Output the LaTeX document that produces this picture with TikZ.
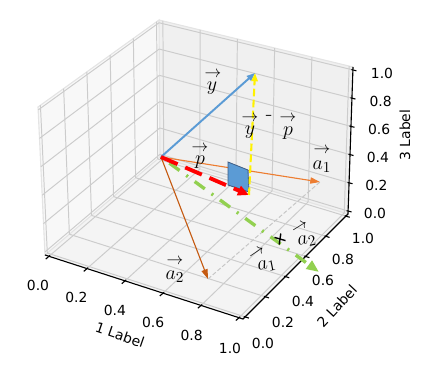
\documentclass[tikz,border=0pt]{standalone}
\usepackage{fontspec}
\newfontfamily\dv{DejaVu Sans}
\usetikzlibrary{calc,arrows.meta}
\definecolor{vblue}{HTML}{5B9BD5}
\definecolor{vorange}{HTML}{ED7D31}
\definecolor{vbrown}{HTML}{C55A11}
\definecolor{vgreen}{HTML}{92D050}
\definecolor{gridc}{HTML}{CCCCCC}
\definecolor{paneedge}{HTML}{E4E4E4}
\newcommand\vlab[5]{%
  \node[arr,rotate=#5] (#1a) at (#2) {$\rightarrow$};
  \node[let,rotate=#5/3] (#1b) at (#3) {$#4$};}
\begin{document}
\begin{tikzpicture}[x=0.72pt,y=-0.72pt,
  gridline/.style={gridc,line width=0.7pt},
  axisline/.style={black,line width=0.8pt},
  tick/.style={black,line width=0.8pt},
  ticklab/.style={font=\dv\fontsize{10}{12}\selectfont,inner sep=0pt},
  axlab/.style={font=\dv\fontsize{10}{12}\selectfont,inner sep=0pt},
  arr/.style={font=\fontsize{13}{15}\selectfont,inner sep=0pt},
  let/.style={font=\fontsize{15.5}{18}\selectfont,inner sep=0pt},
  helper/.style={gray!45,line width=0.7pt,dash pattern=on 3pt off 1.5pt},
  >={Triangle[length=6pt,width=4pt]}]
\useasboundingbox (0,0) rectangle (428,372);
% box corners
\coordinate (O) at (45,255);
\coordinate (X) at (243,319);
\coordinate (XY) at (348,214);
\coordinate (Y) at (160,157);
\coordinate (Z) at (38,107);
\coordinate (YZ) at (159,20);
\coordinate (XYZ) at (353,67);
% panes
\fill[color={rgb,255:red,244;green,244;blue,244}] (O) -- (X) -- (XY) -- (Y) -- cycle;
\fill[color={rgb,255:red,248;green,248;blue,248}] (O) -- (Y) -- (YZ) -- (Z) -- cycle;
\fill[color={rgb,255:red,240;green,240;blue,240}] (Y) -- (XY) -- (XYZ) -- (YZ) -- cycle;
\draw[paneedge,line width=0.8pt] (O) -- (Y) -- (YZ) -- (Z) -- cycle;
\draw[paneedge,line width=0.8pt] (Y) -- (XY) -- (XYZ) -- (YZ);
% grid
\foreach \i in {0,...,5}{
  \pgfmathsetmacro\f{0.02+0.96*\i/5}
  \draw[gridline] ($(O)!\f!(X)$) -- ($(Y)!\f!(XY)$);
  \draw[gridline] ($(O)!\f!(Y)$) -- ($(X)!\f!(XY)$);
  \draw[gridline] ($(O)!\f!(Y)$) -- ($(Z)!\f!(YZ)$);
  \draw[gridline] ($(O)!\f!(Z)$) -- ($(Y)!\f!(YZ)$);
  \draw[gridline] ($(Y)!\f!(XY)$) -- ($(YZ)!\f!(XYZ)$);
  \draw[gridline] ($(Y)!\f!(YZ)$) -- ($(XY)!\f!(XYZ)$);
}
% axes
\draw[axisline] (O) -- (X) -- (XY) -- (XYZ);
\foreach \i in {0,...,5}{
  \pgfmathsetmacro\f{0.02+0.96*\i/5}
  \draw[tick] ($(O)!\f!(X)+(1.1,-0.9)$) -- ($(O)!\f!(X)+(-3.2,2.8)$);
  \draw[tick] ($(X)!\f!(XY)+(-1.2,-0.4)$) -- ($(X)!\f!(XY)+(3.8,1.2)$);
  \draw[tick] ($(XY)!\f!(XYZ)+(-1.5,-0.4)$) -- ($(XY)!\f!(XYZ)+(3.5,0.9)$);
}
% tick labels
\foreach \t [count=\k from 0] in {0.0,0.2,0.4,0.6,0.8,1.0}{
  \node[ticklab] (xt\k) at (38+38.4*\k,285+12.6*\k) {\t};
  \node[ticklab] (yt\k) at (263+20*\k,343-21*\k) {\t};
  \node[ticklab] (zt\k) at (375+1.4*\k,213-28*\k) {\t};
}
\node[axlab,rotate=-19] (xl) at (120,335) {1 Label};
\node[axlab,rotate=47] (yl) at (337,306) {2 Label};
\node[axlab,rotate=90] (zl) at (405,135) {3 Label};
% data points
\coordinate (V0) at (161,157);
\coordinate (Yt) at (255,73);
\coordinate (Pf) at (249,195);
\coordinate (A1) at (320,182);
\coordinate (A2) at (208,279);
\coordinate (G) at (319,272);
\coordinate (S1) at (228,162);
\coordinate (S2) at (248,170);
\coordinate (S3) at (249,192);
\coordinate (S4) at (228,185);
% helper dashed line
\draw[helper] (A2) -- (A1);
% vectors
\draw[vgreen,line width=2.4pt,dash pattern=on 1.5pt off 6pt on 9pt off 6pt,
      -{Triangle[length=9pt,width=7pt]}] (V0) -- (G);
\draw[vbrown,line width=0.8pt,-{Triangle[length=7pt,width=4.5pt]}] (V0) -- (A2);
\draw[vorange,line width=0.8pt,-{Triangle[length=7pt,width=4.5pt]}] (V0) -- (A1);
\draw[vblue,line width=1.4pt,-{Triangle[length=6pt,width=4.5pt]}] (V0) -- (Yt);
\filldraw[fill=vblue,draw={rgb,255:red,60;green,90;blue,130},line width=0.6pt] (S1) -- (S2) -- (S3) -- (S4) -- cycle;
\draw[red,line width=2.8pt,dash pattern=on 13pt off 6pt,
      -{Triangle[length=8pt,width=7pt]}] (V0) -- (Pf);
\draw[yellow,line width=1.5pt,dash pattern=on 5.5pt off 2.4pt,
      -{Triangle[length=6pt,width=4.5pt]}] (Pf) -- (Yt);
% plus marker
\coordinate (pl) at (280,239);
\draw[black,line width=1pt] ($(pl)+(-5.5,-1.6)$) -- ($(pl)+(5.5,1.6)$);
\draw[black,line width=1pt] ($(pl)+(0.8,-5.5)$) -- ($(pl)+(-0.8,5.5)$);
% labels
\vlab{ly}{213,74}{212,88}{y}{0}
\vlab{lyp1}{250,118}{250,132}{y}{0}
\node[let] (minus) at (269,118) {-};
\vlab{lyp2}{288,118}{288,133}{p}{0}
\vlab{lp}{200,148}{200,162}{p}{0}
\vlab{la1}{322,150}{322,167}{a_1}{0}
\vlab{la2}{175,261}{175,277}{a_2}{0}
\vlab{lra1}{257,253}{267,266}{a_1}{34}
\vlab{lra2}{300,227}{307,241}{a_2}{32}
\end{tikzpicture}
\end{document}
